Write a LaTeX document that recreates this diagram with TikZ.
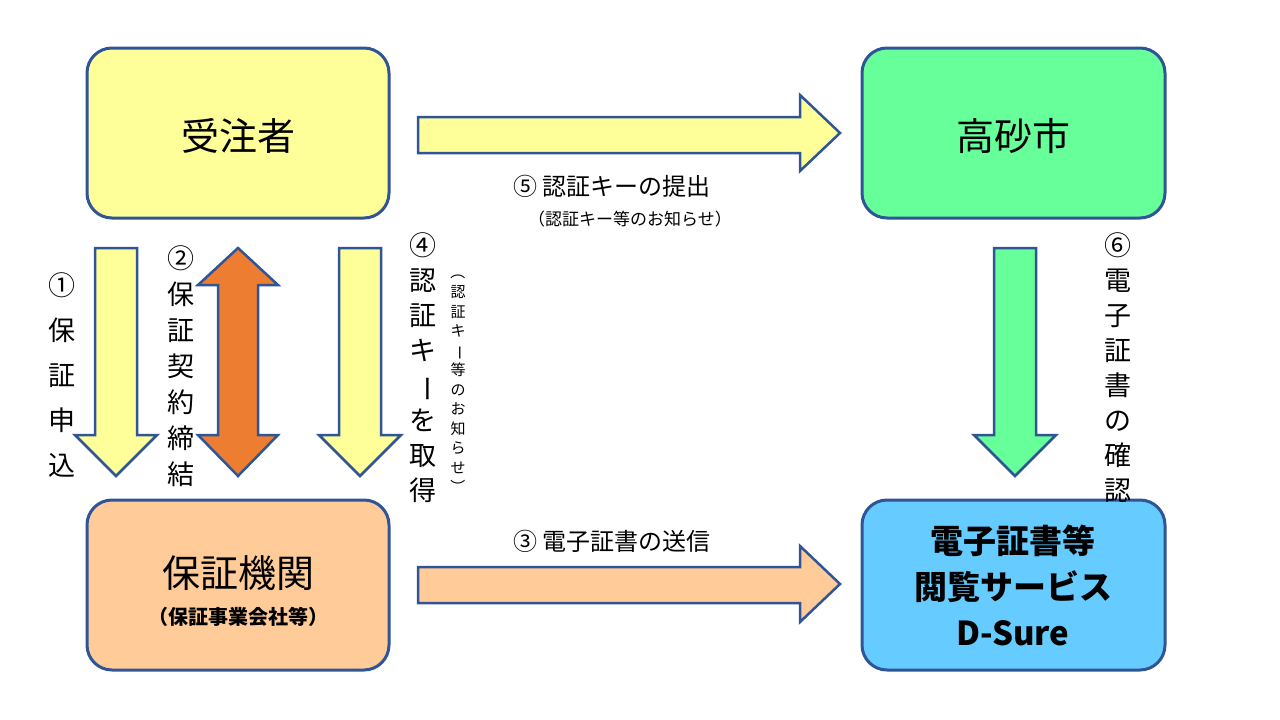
\documentclass[tikz,border=0pt]{standalone}
\usepackage{fontspec}
\setmainfont{Noto Sans CJK JP}
\usetikzlibrary{calc}
\definecolor{bordc}{HTML}{2F5597}
\definecolor{yelc}{HTML}{FFFF99}
\definecolor{grnc}{HTML}{66FF99}
\definecolor{orgc}{HTML}{FFCC99}
\definecolor{bluc}{HTML}{66CCFF}
\definecolor{dorg}{HTML}{ED7D31}
\newcommand{\vtext}[1]{\begin{tabular}{@{}c@{}}#1\end{tabular}}
\newcommand{\vbar}{\rotatebox[origin=c]{-90}{ー}}
\begin{document}
\begin{tikzpicture}[x=1pt,y=-1pt,line width=3pt,line join=miter,
  box/.style={draw=bordc,rounded corners=25pt},
  blk/.style={draw=bordc,line width=2.5pt},
  lab/.style={font=\fontsize{24}{26}\selectfont,inner sep=0pt},
  vlab/.style={inner sep=0pt,anchor=north}]
\useasboundingbox (0,0) rectangle (1280,720);
% boxes
\draw[box,fill=yelc] (87,48) rectangle (389,218);
\draw[box,fill=grnc] (862,48) rectangle (1165,218);
\draw[box,fill=orgc] (87,500) rectangle (389,670);
\draw[box,fill=bluc] (862,500) rectangle (1165,670);
\node[lab,font=\fontsize{38}{40}\selectfont] (jutyu) at (238,136) {受注者};
\node[lab,font=\fontsize{38}{40}\selectfont] (city) at (1013,136) {高砂市};
\node[lab,font=\fontsize{38}{40}\selectfont] (hosyo) at (238,573) {保証機関};
\node[lab,font=\bfseries\fontsize{20}{22}\selectfont] (hosyosub) at (238,617) {（保証事業会社等）};
\node[lab,font=\bfseries\fontsize{33}{46}\selectfont,align=center] (dsure) at (1013,585) {電子証書等\\閲覧サービス\\D-Sure};
% block arrows
\draw[blk,fill=yelc] (418,117)--(800,117)--(800,95)--(840,133)--(800,171)--(800,153)--(418,153)--cycle;
\draw[blk,fill=orgc] (418,567)--(800,567)--(800,546)--(840,584)--(800,622)--(800,603)--(418,603)--cycle;
\draw[blk,fill=yelc] (95,248)--(137,248)--(137,435)--(157,435)--(116,476)--(75,435)--(95,435)--cycle;
\draw[blk,fill=yelc] (339,248)--(381,248)--(381,435)--(401,435)--(360,476)--(319,435)--(339,435)--cycle;
\draw[blk,fill=grnc] (994,248)--(1036,248)--(1036,435)--(1056,435)--(1015,476)--(974,435)--(994,435)--cycle;
\draw[blk,fill=dorg] (238,248)--(278,285)--(258,285)--(258,435)--(278,435)--(238,476)--(198,435)--(218,435)--(218,285)--(198,285)--cycle;
% labels
\node[lab] (l5) at (612,186) {⑤ 認証キーの提出};
\node[lab,font=\fontsize{17}{19}\selectfont] (l5s) at (630,219) {（認証キー等のお知らせ）};
\node[lab] (l3) at (612,541) {③ 電子証書の送信};
\node[vlab,font=\fontsize{27}{45}\selectfont] (l1) at (62,262) {\vtext{①\\保\\証\\申\\込}};
\node[vlab,font=\fontsize{27}{36}\selectfont] (l2) at (181,242) {\vtext{②\\保\\証\\契\\約\\締\\結}};
\node[vlab,font=\fontsize{27}{35}\selectfont] (l4) at (423,229) {\vtext{④\\認\\証\\キ\\\vbar\\を\\取\\得}};
\node[vlab,font=\fontsize{15}{19.5}\selectfont] (l4s) at (458,263) {\vtext{\rotatebox[origin=c]{-90}{（}\\認\\証\\キ\\\vbar\\等\\の\\お\\知\\ら\\せ\\\rotatebox[origin=c]{-90}{）}}};
\node[vlab,font=\fontsize{27}{35}\selectfont] (l6) at (1118,229) {\vtext{⑥\\電\\子\\証\\書\\の\\確\\認}};
\end{tikzpicture}
\end{document}
